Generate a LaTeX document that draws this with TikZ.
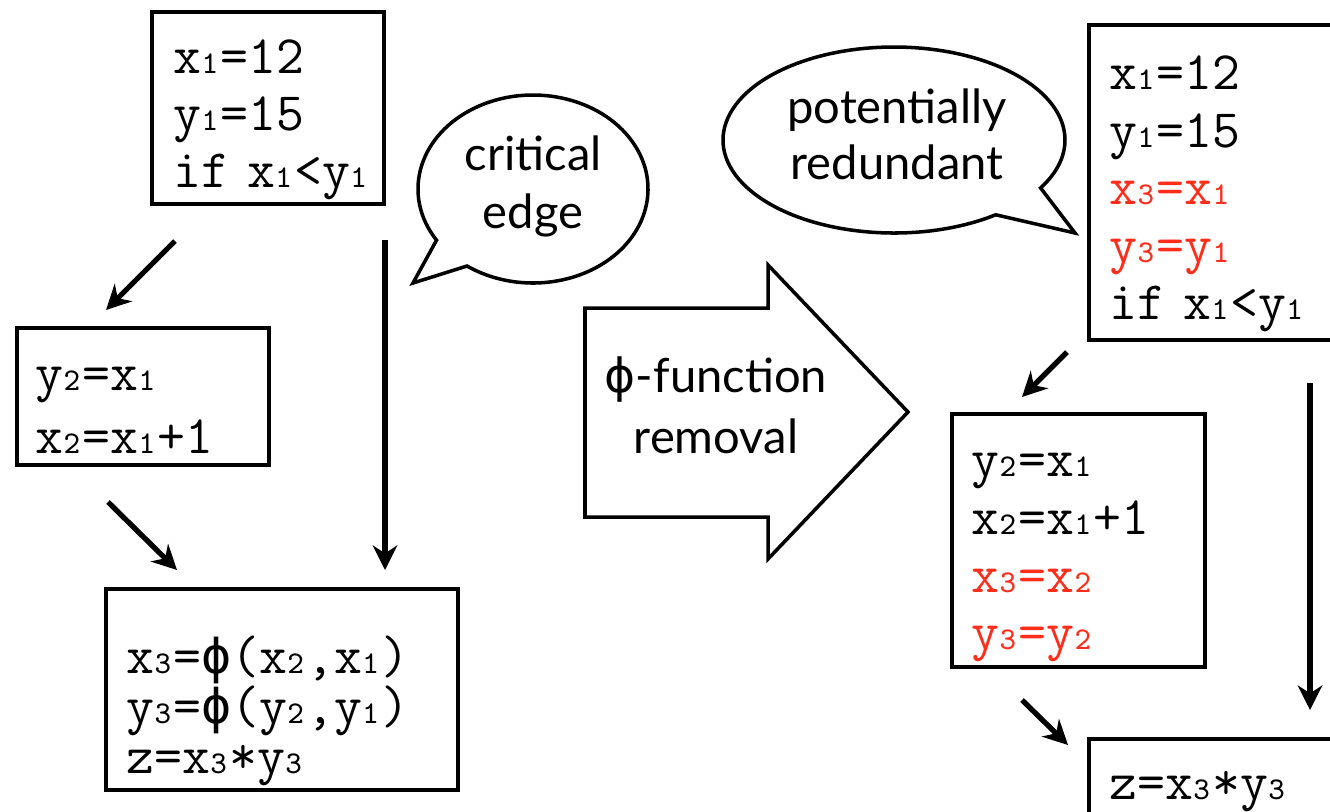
\documentclass[tikz,border=0pt]{standalone}
\usepackage{fontspec}
\setmainfont{Lato}
\newfontfamily\phisans{DejaVu Sans}
\newfontfamily\phimono{DejaVu Sans Mono}
\usepackage{xcolor}
\usetikzlibrary{arrows.meta,calc}

\definecolor{hotred}{RGB}{255,45,25}
% small index digits of the SSA names
\newcommand{\ix}[1]{{\fontsize{9}{9}\selectfont #1}\kern0.7pt}
\newcommand{\phic}{{\phimono\fontsize{14.2}{14.2}\selectfont ϕ}}

\begin{document}
\begin{tikzpicture}[x=0.01cm,y=-0.01cm,
  code/.style={draw,line width=1pt,anchor=north west,align=left,
    inner ysep=0pt,font=\ttfamily\fontsize{15.4}{#1}\selectfont},
  code/.default=16.3pt,
  flow/.style={-{Stealth[length=7pt,width=7pt]},line width=1.5pt},
  talk/.style={anchor=base,align=center,text width=4cm,
    font=\fontsize{13.4}{#1}\selectfont},
  talk/.default=16.4pt]

\useasboundingbox (0,0) rectangle (1330,811);
\clip (0,0) rectangle (1330,811);

% left CFG, before
\node[code=16.1pt,inner xsep=0.22cm,text width=1.88cm,text height=0.62cm,text depth=1.30cm]
  (entry) at (150,10) {x\ix1=12\\y\ix1=15\\if~x\ix1<y\ix1};
\node[code=17.9pt,inner xsep=0.19cm,text width=2.14cm,text height=0.63cm,text depth=0.74cm]
  (then) at (15,326) {y\ix2=x\ix1\\x\ix2=x\ix1+1};
\node[code=14.2pt,inner xsep=0.21cm,text width=3.10cm,text height=0.85cm,text depth=1.16cm]
  (join) at (104,587) {x\ix3=\phic(x\ix2,x\ix1)\\y\ix3=\phic(y\ix2,y\ix1)\\z=x\ix3*y\ix3};

\coordinate (e1) at (175,241); \coordinate (t0) at (106,310);
\coordinate (t1) at (108,502); \coordinate (j0) at (177,570);
\coordinate (e2) at (385,240); \coordinate (j1) at (385,570);
\draw[flow] (e1) -- (t0);
\draw[flow] (t1) -- (j0);
\draw[flow] (e2) -- (j1);

% speech bubble
\filldraw[line width=1pt,fill=white] (413,283) -- ($(533,189)+(147:115 and 94)$)
  arc[start angle=147,end angle=485,x radius=115,y radius=94] -- cycle;
\node[talk=16.5pt] (crit) at (533,170) {critical\\edge};

% big arrow
\draw[line width=1pt] (585,308) -- (768,308) -- (768,265) -- (908,412)
  -- (768,559) -- (768,517) -- (585,517) -- cycle;
\node[talk=17.4pt] (removal) at (716,392) {{\phisans ϕ}-function\\removal};

% right CFG, after
\filldraw[line width=1pt,fill=white] (1075,233) -- ($(894,140)+(53.5:171 and 93)$)
  arc[start angle=53.5,end angle=391,x radius=171,y radius=93] -- cycle;
\node[talk=16.2pt] (redund) at (897,123) {potentially\\redundant};

\node[code=16.36pt,inner xsep=0.21cm,text width=2.6cm,text height=0.65cm,text depth=2.50cm]
  (entry2) at (1087,23) {x\ix1=12\\y\ix1=15\\\textcolor{hotred}{x\ix3=x\ix1}\\
  \textcolor{hotred}{y\ix3=y\ix1}\\if~x\ix1<y\ix1};
\node[code=16.4pt,inner xsep=0.20cm,text width=2.13cm,text height=0.63cm,text depth=1.90cm]
  (then2) at (950,412) {y\ix2=x\ix1\\x\ix2=x\ix1+1\\\textcolor{hotred}{x\ix3=x\ix2}\\
  \textcolor{hotred}{y\ix3=y\ix2}};
\node[code,inner xsep=0.21cm,text width=2.6cm,text height=0.61cm,text depth=0.89cm]
  (join2) at (1087,737) {z=x\ix3*y\ix3};

\coordinate (f1) at (1067,352); \coordinate (u0) at (1022,397);
\coordinate (u1) at (1022,700); \coordinate (k0) at (1068,745);
\coordinate (f2) at (1310,383); \coordinate (k1) at (1310,710);
\draw[flow] (f1) -- (u0);
\draw[flow] (u1) -- (k0);
\draw[flow] (f2) -- (k1);
\end{tikzpicture}
\end{document}
